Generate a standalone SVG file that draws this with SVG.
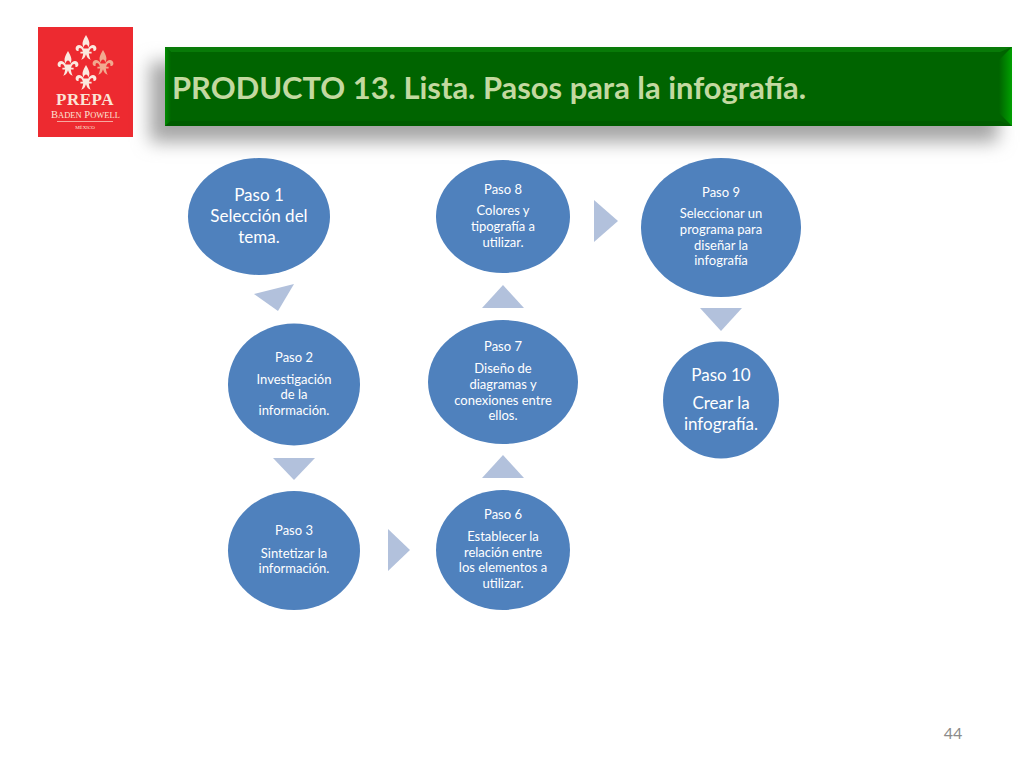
<svg xmlns="http://www.w3.org/2000/svg" width="1024" height="768" viewBox="0 0 1024 768">
<style>
text{font-family:"Lato","Open Sans","Liberation Sans",sans-serif;fill:#fff;text-anchor:middle}
.n{fill:#4f81bd}
.a{fill:#b2c1dc}
.s{font-size:13px}
.m{font-size:17px}
.t{font-size:30.900px;font-weight:700;fill:#c3d9a0;text-anchor:start}
.f{fill:#fbe9df}
.l{font-family:"Liberation Serif",serif;fill:#fbe4d6}
</style>
<defs>
<filter id="sh" x="-10%" y="-40%" width="120%" height="180%"><feGaussianBlur stdDeviation="9"/></filter>
<linearGradient id="lb" x1="0" x2="1" y1="0" y2="0"><stop offset="0" stop-color="#008c00"/><stop offset="1" stop-color="#006400"/></linearGradient>
<linearGradient id="rb" x1="0" x2="1" y1="0" y2="0"><stop offset="0" stop-color="#006400"/><stop offset="1" stop-color="#00a000"/></linearGradient>
<path id="fl" d="M0-20C-4-13-6-9-2.500-4C-3-7-1-8 0-8C1-8 3-7 2.500-4C6-9 4-13 0-20ZM-3-3C-5-9-13-9-13-3C-13 0-10 1-9-1C-10-3-8-5-6-3C-5-2-4 0-4 1H-7V3H-3.500C-4 7-5 9-6 11C-3 10-1 8 0 4C1 8 3 10 6 11C5 9 4 7 3.500 3H7V1H4C4 0 5-2 6-3C8-5 10-3 9-1C10 1 13 0 13-3C13-9 5-9 3-3Z"/>
</defs>
<rect width="1024" height="768" fill="#fff"/>
<g id="logo">
<rect x="38" y="27" width="95" height="110" fill="#ed2a30"/>
<use href="#fl" class="f" transform="translate(86,51) scale(.8)"/>
<use href="#fl" class="f" transform="translate(68,67) scale(.8)"/>
<use href="#fl" fill="#f2a98f" transform="translate(103,66) scale(.8)"/>
<use href="#fl" class="f" transform="translate(86,81) scale(.8)"/>
<text class="l" x="85" y="105" style="font-weight:700;font-size:17px;letter-spacing:.5px">PREPA</text>
<text class="l" x="85.500" y="118" style="font-size:10.500px">B<tspan font-size="8.500">ADEN</tspan> P<tspan font-size="8.500">OWELL</tspan></text>
<rect x="57" y="121" width="56" height="0.700" fill="#fbe0d0"/>
<text class="l" x="85" y="129" style="font-size:5px">MÉXICO</text>
</g>
<g id="title">
<rect x="150" y="62" width="848" height="80" fill="#a6a6a6" filter="url(#sh)"/>
<rect x="165" y="47" width="847" height="79" fill="#006400"/>
<path d="M165 47H1012L1000 52H171Z" fill="#087a08"/>
<path d="M165 47L171 52V121L165 126Z" fill="url(#lb)"/>
<path d="M1012 47L999 60V113L1012 126Z" fill="url(#rb)"/>
<path d="M165 126L171 121H1000L1012 126Z" fill="#005c00"/>
<text class="t" x="172" y="99">PRODUCTO 13. Lista. Pasos para la infografía.</text>
</g>
<g id="connectors">
<polygon class="a" points="294,284 254,294 278,311"/>
<polygon class="a" points="273,458 315,458 294,480"/>
<polygon class="a" points="388,529 410,550 388,571"/>
<polygon class="a" points="482,478 524,478 503,455"/>
<polygon class="a" points="482,308 524,308 503,285"/>
<polygon class="a" points="594,200 618,221 594,242"/>
<polygon class="a" points="700,308 742,308 721,331"/>
</g>
<g id="paso1"><ellipse class="n" cx="259" cy="216.500" rx="71" ry="58.500"/>
<text class="m" x="259" y="201">Paso 1</text><text class="m" x="259" y="222">Selección del</text><text class="m" x="259" y="243">tema.</text></g>
<g id="paso2"><ellipse class="n" cx="294" cy="384.500" rx="66" ry="61"/>
<text class="s" x="294" y="362">Paso 2</text><text class="s" x="294" y="384">Investigación</text><text class="s" x="294" y="399">de la</text><text class="s" x="294" y="415">información.</text></g>
<g id="paso3"><ellipse class="n" cx="294" cy="550.500" rx="66" ry="59.500"/>
<text class="s" x="294" y="535">Paso 3</text><text class="s" x="294" y="558">Sintetizar la</text><text class="s" x="294" y="573">información.</text></g>
<g id="paso6"><ellipse class="n" cx="503" cy="550" rx="67" ry="60"/>
<text class="s" x="503" y="519">Paso 6</text><text class="s" x="503" y="541">Establecer la</text><text class="s" x="503" y="557">relación entre</text><text class="s" x="503" y="572">los elementos a</text><text class="s" x="503" y="588">utilizar.</text></g>
<g id="paso7"><ellipse class="n" cx="503" cy="382" rx="75" ry="62"/>
<text class="s" x="503" y="351">Paso 7</text><text class="s" x="503" y="373">Diseño de</text><text class="s" x="503" y="389">diagramas y</text><text class="s" x="503" y="405">conexiones entre</text><text class="s" x="503" y="420">ellos.</text></g>
<g id="paso8"><ellipse class="n" cx="503" cy="216.500" rx="67" ry="56.500"/>
<text class="s" x="503" y="194">Paso 8</text><text class="s" x="503" y="215">Colores y</text><text class="s" x="503" y="231">tipografía a</text><text class="s" x="503" y="247">utilizar.</text></g>
<g id="paso9"><ellipse class="n" cx="721" cy="227.500" rx="80" ry="69.500"/>
<text class="s" x="721" y="197">Paso 9</text><text class="s" x="721" y="218">Seleccionar un</text><text class="s" x="721" y="234">programa para</text><text class="s" x="721" y="250">diseñar la</text><text class="s" x="721" y="265">infografía</text></g>
<g id="paso10"><ellipse class="n" cx="721" cy="400" rx="58" ry="58.500"/>
<text class="m" x="721" y="381">Paso 10</text><text class="m" x="721" y="409">Crear la</text><text class="m" x="721" y="430">infografía.</text></g>
<text id="page" x="953" y="739" style="font-size:16px;fill:#8b8b8b">44</text>
</svg>
